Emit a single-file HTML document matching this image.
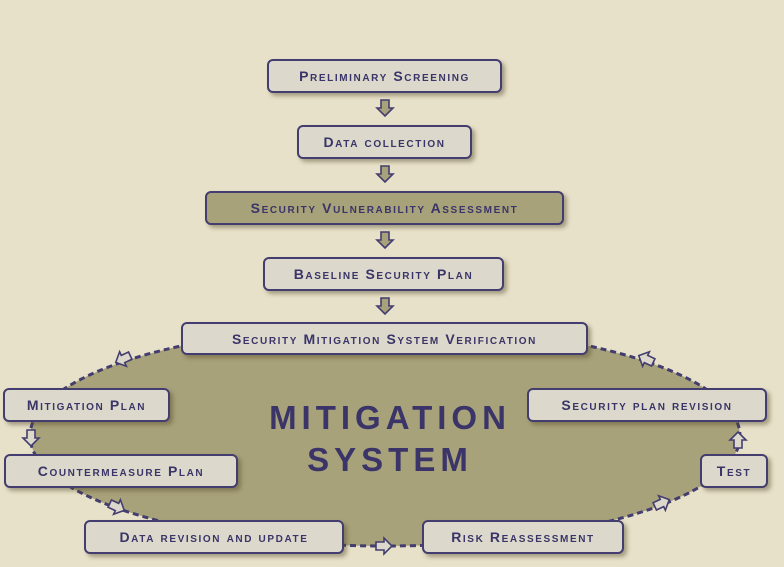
<!DOCTYPE html>
<html><head><meta charset="utf-8"><style>
body{margin:0;width:784px;height:567px;overflow:hidden;background:#e8e1c9;font-family:"Liberation Sans",sans-serif;}
.b{position:absolute;box-sizing:border-box;border:2px solid #433d70;border-radius:6px;background:#dcd9cc;color:#3a3468;display:flex;align-items:center;justify-content:center;font-variant:small-caps;font-size:14px;letter-spacing:1.6px;box-shadow:3px 3px 4px rgba(80,70,40,.45);white-space:nowrap;font-weight:bold;}
.o{background:#a8a27a;}
svg{position:absolute;left:0;top:0}
.t{position:absolute;left:190px;width:400px;text-align:center;color:#3a3468;font-size:33px;letter-spacing:5px;font-weight:bold;}
</style></head><body>
<svg width="784" height="567">
<defs><polygon id="a" points="-4,-8 4,-8 4,0 8,0 0,8 -8,0 -4,0" fill="#dcd9cc" stroke="#433d70" stroke-width="1.6"/>
<polygon id="f" points="-4,-8 4,-8 4,0 8,0 0,8 -8,0 -4,0" fill="#a8a27a" stroke="#433d70" stroke-width="1.6"/></defs>
<ellipse cx="385" cy="436" rx="355" ry="110" fill="#a8a27a" stroke="#433d70" stroke-width="3" stroke-dasharray="6,4"/>
<use href="#f" x="385" y="108"/><use href="#f" x="385" y="174"/><use href="#f" x="385" y="240"/><use href="#f" x="385" y="306"/>
<use href="#a" transform="translate(123,359) rotate(65)"/>
<use href="#a" transform="translate(31,438)"/>
<use href="#a" transform="translate(117,507) rotate(-65)"/>
<use href="#a" transform="translate(384,546) rotate(-90)"/>
<use href="#a" transform="translate(662,503) rotate(-115)"/>
<use href="#a" transform="translate(738,440) rotate(180)"/>
<use href="#a" transform="translate(646,359) rotate(115)"/>
</svg>
<div class="t" style="top:399px">MITIGATION</div>
<div class="t" style="top:441px">SYSTEM</div>
<div class="b" style="left:267px;top:59px;width:235px;height:34px">Preliminary Screening</div>
<div class="b" style="left:297px;top:125px;width:175px;height:34px">Data collection</div>
<div class="b o" style="left:205px;top:191px;width:359px;height:34px">Security Vulnerability Assessment</div>
<div class="b" style="left:263px;top:257px;width:241px;height:34px">Baseline Security Plan</div>
<div class="b" style="left:181px;top:322px;width:407px;height:33px">Security Mitigation System Verification</div>
<div class="b" style="left:3px;top:388px;width:167px;height:34px">Mitigation Plan</div>
<div class="b" style="left:4px;top:454px;width:234px;height:34px">Countermeasure Plan</div>
<div class="b" style="left:84px;top:520px;width:260px;height:34px">Data revision and update</div>
<div class="b" style="left:422px;top:520px;width:202px;height:34px">Risk Reassessment</div>
<div class="b" style="left:700px;top:454px;width:68px;height:34px">Test</div>
<div class="b" style="left:527px;top:388px;width:240px;height:34px">Security plan revision</div>
</body></html>
